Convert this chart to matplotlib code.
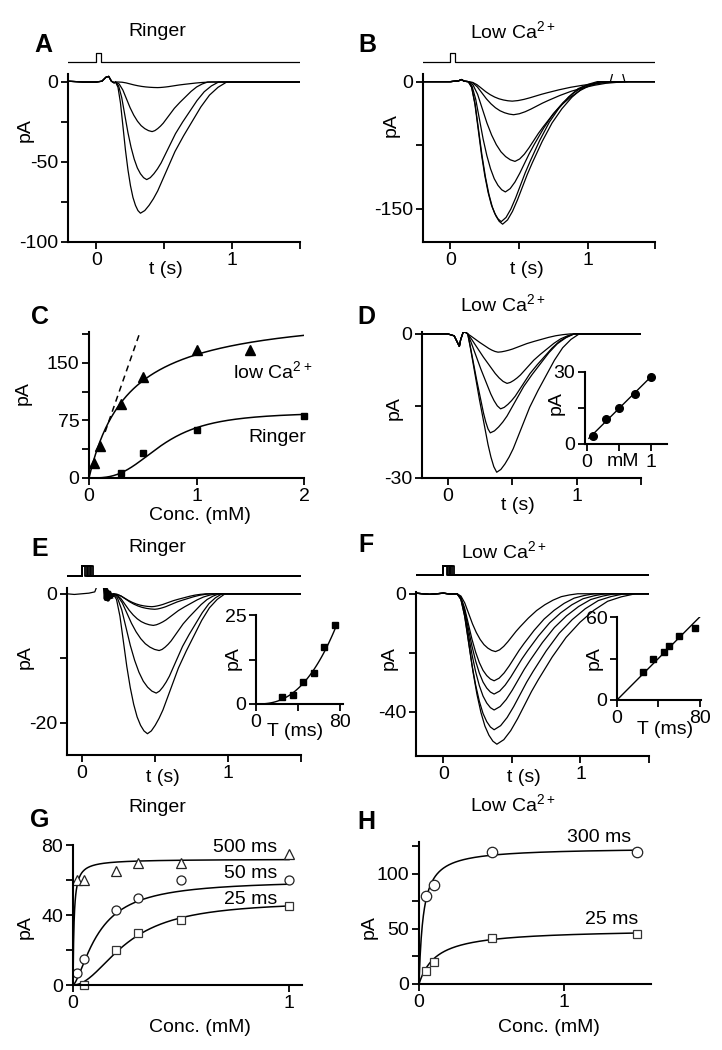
import matplotlib
matplotlib.use("Agg")
import matplotlib.pyplot as plt
import numpy as np

plt.rcParams['font.family'] = ['Liberation Sans', 'DejaVu Sans']
plt.rcParams['mathtext.fontset'] = 'custom'
plt.rcParams['mathtext.rm'] = 'Liberation Sans'
plt.rcParams['font.size'] = 14
plt.rcParams['axes.linewidth'] = 1.5

W, H = 722, 1050

# normalised response shape
rise_u = [0, 0.1, 0.2, 0.3, 0.4, 0.5, 0.6, 0.7, 0.8, 0.9, 1.0]
rise_y = [0, 0.04, 0.16, 0.34, 0.52, 0.67, 0.79, 0.88, 0.94, 0.98, 1.0]
fast_rise_y = [0, 0.11, 0.23, 0.35, 0.47, 0.58, 0.69, 0.8, 0.89, 0.96, 1.0]
bell_v = [0, 0.05, 0.1, 0.15, 0.2, 0.3, 0.4, 0.5, 0.6, 0.7, 0.8, 0.9, 1.0]
bell_y = [1.0, 0.98, 0.94, 0.89, 0.83, 0.68, 0.53, 0.41, 0.3, 0.19, 0.1, 0.04, 0.0]
tail_v = [0, 0.05, 0.1, 0.15, 0.2, 0.25, 0.3, 0.4, 0.5, 0.6, 0.7, 0.8, 0.9, 1.0]
tail_y = [1.0, 0.97, 0.91, 0.83, 0.74, 0.65, 0.57, 0.42, 0.29, 0.19, 0.11, 0.05, 0.02, 0.0]

# A: Ringer traces
a_amp = [3.5, 31, 61, 82]
a_on = [0.16, 0.14, 0.14, 0.14]
a_peak = [0.45, 0.41, 0.37, 0.324]
a_end = [0.85, 0.82, 0.9, 0.96]
a_base_t = [-0.21, -0.1, 0.0, 0.04, 0.07, 0.09, 0.11, 0.13, 0.14]
a_base_y = [0.5, 0, 0, 0.5, 3, 3.5, 0.5, -0.5, 0]
a_stim_t = [-0.21, 0, 0, 0.03, 0.03, 1.5]
a_stim_y = [0, 0, 1, 1, 0, 0]

# B: low Ca traces
b_amp = [23, 39, 94, 130, 165, 168]
b_on = [0.13, 0.13, 0.13, 0.13, 0.13, 0.13]
b_peak = [0.45, 0.46, 0.47, 0.40, 0.37, 0.38]
b_end = [1.3, 1.3, 1.15, 1.1, 1.07, 1.1]
b_base_t = [-0.2, 0.0, 0.06, 0.08, 0.1, 0.13]
b_base_y = [0, 0, 1, 2.5, 0.5, 0]
b_spike_t = [1.165, 1.19, 1.245, 1.27]
b_spike_y = [0, 15, 15, 0]
b_stim_t = [-0.2, 0, 0, 0.03, 0.03, 1.5]
b_stim_y = [0, 0, 1, 1, 0, 0]

# C: dose response
c_low_x = [0.05, 0.1, 0.3, 0.5, 1.0, 1.5]
c_low_y = [20, 42, 96, 132, 166, 166]
c_ring_x = [0.3, 0.5, 1.0, 2.0]
c_ring_y = [6, 32, 63, 81]
c_low_fit = (220, 0.37, 1.0)
c_ring_fit = (86, 0.68, 3.0)
c_slope = 400

# D: low Ca traces + inset
d_amp = [3.8, 10.3, 15.6, 20.6, 28.8]
d_on = [0.155, 0.155, 0.155, 0.155, 0.155]
d_peak = [0.39, 0.46, 0.41, 0.33, 0.38]
d_end = [0.95, 0.98, 0.98, 0.98, 1.02]
d_base_t = [-0.2, 0.0, 0.05, 0.09, 0.1, 0.12, 0.14, 0.155]
d_base_y = [0, 0, -0.4, -2.6, -1.2, 0.4, 0.3, 0]
d_in_x = [0.1, 0.3, 0.5, 0.75, 1.0]
d_in_y = [3.5, 10.4, 15.1, 21, 28]

# E: Ringer, stimulus duration series
e_T = [25, 35, 45, 55, 65, 75]
e_amp = [2.0, 2.4, 4.9, 8.8, 15.4, 21.7]
e_on = [0.215] * 6
e_peak = [0.48, 0.5, 0.49, 0.53, 0.51, 0.45]
e_end = [0.85, 0.88, 0.92, 0.94, 0.96, 0.98]
e_pre_t = [-0.1, -0.05, 0.0, 0.05, 0.09, 0.1]
e_pre_y = [0, -0.1, 0, 0.1, 0.3, 0.9]
e_art_t = [0.16, 0.165, 0.17, 0.18, 0.19, 0.2]
e_art_y = [0.8, -0.8, 0.6, -0.9, 0.2, -0.5]
e_base_t = [0.2, 0.215]
e_base_y = [-0.5, -0.4]
e_in_y = [2.1, 2.5, 6.1, 8.7, 16.1, 22.2]
e_fit = (4.27e-4, 2.5)

# F: low Ca, stimulus duration series
f_T = [25, 35, 45, 50, 60, 75]
f_amp = [19.6, 29.5, 34, 39.4, 46.1, 51]
f_on = [0.1] * 6
f_peak = [0.38, 0.37, 0.37, 0.37, 0.37, 0.39]
f_end = [0.98, 1.1, 1.18, 1.25, 1.32, 1.4]
f_base_t = [-0.2, -0.1, 0.0, 0.05, 0.1]
f_base_y = [0.2, -0.2, 0.2, -0.1, 0]
f_in_y = [20, 29.4, 34.9, 39.2, 46.5, 51.8]

# G: Ringer dose response at three durations
g_x = [0.02, 0.05, 0.2, 0.3, 0.5, 1.0]
g_500 = [60, 60, 65, 70, 70, 75]
g_50 = [7, 15, 43, 50, 60, 60]
g_25_x = [0.05, 0.2, 0.3, 0.5, 1.0]
g_25 = [0, 20, 30, 37, 45]
g_fit_500 = (72, 0.005, 1.0)
g_fit_50 = (60, 0.12, 1.5)
g_fit_25 = (48, 0.25, 2.0)

# H: low Ca dose response
h_x = [0.05, 0.1, 0.5, 1.5]
h_300 = [80, 90, 120, 120]
h_25 = [12, 20, 42, 45]
h_fit_300 = (124, 0.03, 1.0)
h_fit_25 = (50, 0.12, 1.0)


def rect(l, t, r, b):
    return [l / W, 1 - b / H, (r - l) / W, (b - t) / H]


def txt(x, y, s, **kw):
    kw.setdefault('ha', 'center')
    kw.setdefault('va', 'center')
    fig.text(x / W, 1 - y / H, s, **kw)


def hill(x, p):
    vmax, k, n = p
    return vmax * x ** n / (k ** n + x ** n)


def build(base_t, base_y, on, peak, end, amp, dv, dy, t_max, ry=rise_y):
    t = list(base_t) + [on + u * (peak - on) for u in rise_u] + [peak + v * (end - peak) for v in dv[1:]] + [t_max]
    y = list(base_y) + [-amp * r for r in ry] + [-amp * d for d in dy[1:]] + [0]
    return t, y


def style(ax):
    ax.spines['top'].set_visible(False)
    ax.spines['right'].set_visible(False)
    ax.tick_params(direction='out', length=5, width=1.3, pad=2, labelsize=14)


def ticks(ax, xt, xl, yt, yl):
    ax.set_xticks(xt)
    ax.set_xticklabels(xl)
    ax.set_yticks(yt)
    ax.set_yticklabels(yl)


def stim(rc, xlim, ylim):
    s = fig.add_axes(rect(*rc))
    s.set_xlim(xlim)
    s.set_ylim(ylim)
    s.axis('off')
    return s


fig = plt.figure(figsize=(W / 100, H / 100), dpi=100)
lw = 0.9

# ---------- A ----------
ax = fig.add_axes(rect(68, 74, 300, 242))
for i in range(len(a_amp)):
    t, y = build(a_base_t, a_base_y, a_on[i], a_peak[i], a_end[i], a_amp[i], bell_v, bell_y, 1.5)
    ax.plot(t, y, color='black', lw=lw)
ax.set_xlim(-0.21, 1.5)
ax.set_ylim(-100, 5)
style(ax)
ticks(ax, [0, 0.5, 1, 1.5], ['0', '', '1', ''], [0, -25, -50, -75, -100], ['0', '', '-50', '', '-100'])
s = stim((68, 50, 300, 64), (-0.21, 1.5), (-0.22, 1.33))
s.plot(a_stim_t, a_stim_y, color='black', lw=lw)
txt(43, 45, 'A', fontsize=18, fontweight='bold')
txt(157, 32, 'Ringer')
txt(25, 130, 'pA', rotation=90)
txt(166, 270, 't (s)')

# ---------- B ----------
ax = fig.add_axes(rect(423, 74, 655, 242))
for i in range(len(b_amp)):
    t, y = build(b_base_t, b_base_y, b_on[i], b_peak[i], b_end[i], b_amp[i], tail_v, tail_y, 1.5)
    ax.plot(t, y, color='black', lw=lw)
ax.plot(b_spike_t, b_spike_y, color='black', lw=lw)
ax.set_xlim(-0.2, 1.49)
ax.set_ylim(-189, 9)
style(ax)
ticks(ax, [0, 0.5, 1, 1.49], ['0', '', '1', ''], [0, -75, -150], ['0', '', '-150'])
s = stim((423, 50, 655, 64), (-0.2, 1.49), (-0.22, 1.33))
s.plot(b_stim_t, b_stim_y, color='black', lw=lw)
txt(367, 45, 'B', fontsize=18, fontweight='bold')
txt(513, 32, 'Low Ca$^{2+}$')
txt(391, 125, 'pA', rotation=90)
txt(527, 270, 't (s)')

# ---------- C ----------
ax = fig.add_axes(rect(89, 332, 304, 478))
xx = np.linspace(0, 2, 300)
ax.plot(xx, hill(xx, c_low_fit), color='black', lw=1.1)
ax.plot(xx, hill(xx, c_ring_fit), color='black', lw=1.1)
xd = np.linspace(0.15, 0.47, 20)
ax.plot(xd, c_slope * xd, color='black', lw=1.1, dashes=(4, 3))
ax.plot(c_low_x, c_low_y, '^', color='black', ms=7, clip_on=False)
ax.plot(c_ring_x, c_ring_y, 's', color='black', ms=4.5, clip_on=False)
ax.set_xlim(0, 2)
ax.set_ylim(0, 190)
style(ax)
ticks(ax, [0, 1, 2], ['0', '1', '2'], [0, 37.5, 75, 112.5, 150, 187.5], ['0', '', '75', '', '150', ''])
txt(40, 317, 'C', fontsize=18, fontweight='bold')
txt(233, 372, 'low Ca$^{2+}$', ha='left')
txt(248, 437, 'Ringer', ha='left')
txt(23, 393, 'pA', rotation=90)
txt(200, 515, 'Conc. (mM)')

# ---------- D ----------
ax = fig.add_axes(rect(422, 332, 641, 478))
for i in range(len(d_amp)):
    t, y = build(d_base_t, d_base_y, d_on[i], d_peak[i], d_end[i], d_amp[i], bell_v, bell_y, 1.5,
                 ry=fast_rise_y)
    ax.plot(t, y, color='black', lw=lw)
ax.set_xlim(-0.2, 1.5)
ax.set_ylim(-30, 0.4)
style(ax)
ticks(ax, [0, 0.5, 1, 1.5], ['0', '', '1', ''], [0, -15, -30], ['0', '', '-30'])
txt(366, 317, 'D', fontsize=18, fontweight='bold')
txt(503, 305, 'Low Ca$^{2+}$')
txt(394, 408, 'pA', rotation=90)
txt(518, 505, 't (s)')

ins = fig.add_axes(rect(585, 372, 667, 444))
k, b0 = np.polyfit(d_in_x, d_in_y, 1)
xl = np.array([0.03, 1.0])
ins.plot(xl, k * xl + b0, color='black', lw=1)
ins.plot(d_in_x, d_in_y, 'o', color='black', ms=5.5)
ins.set_xlim(-0.03, 1.25)
ins.set_ylim(0, 30)
style(ins)
ticks(ins, [0, 0.5, 1], ['0', '', '1'], [0, 15, 30], ['0', '', '30'])
txt(623, 462, 'mM')
txt(556, 403, 'pA', rotation=90)

# ---------- E ----------
ax = fig.add_axes(rect(67, 588, 301, 755))
ax.plot(e_pre_t, e_pre_y, color='black', lw=lw)
ax.plot(e_art_t, e_art_y, color='black', lw=3)
for i in range(len(e_amp)):
    t, y = build(e_base_t, e_base_y, e_on[i], e_peak[i], e_end[i], e_amp[i], bell_v, bell_y, 1.5)
    ax.plot(t, y, color='black', lw=lw)
ax.set_xlim(-0.1, 1.5)
ax.set_ylim(-25, 0.9)
style(ax)
ticks(ax, [0, 0.5, 1, 1.5], ['0', '', '1', ''], [0, -10, -20], ['0', '', '-20'])
s = stim((67, 563, 301, 578), (-0.1, 1.5), (-0.2, 1.3))
for T in e_T:
    s.plot([-0.1, 0, 0, T / 1000, T / 1000, 1.5], [0, 0, 1, 1, 0, 0], color='black', lw=1.3)
txt(40, 549, 'E', fontsize=18, fontweight='bold')
txt(157, 548, 'Ringer')
txt(25, 657, 'pA', rotation=90)
txt(163, 777, 't (s)')

ins = fig.add_axes(rect(256, 615, 343, 704))
tt = np.linspace(0, 77, 100)
ins.plot(tt, e_fit[0] * tt ** e_fit[1], color='black', lw=1)
ins.plot(e_T, e_in_y, 's', color='black', ms=5)
ins.set_xlim(0, 83)
ins.set_ylim(0, 25)
style(ins)
ticks(ins, [0, 40, 80], ['0', '', '80'], [0, 12.5, 25], ['0', '', '25'])
txt(295, 732, 'T (ms)')
txt(233, 658, 'pA', rotation=90)

# ---------- F ----------
ax = fig.add_axes(rect(416, 592, 649, 756))
for i in range(len(f_amp)):
    t, y = build(f_base_t, f_base_y, f_on[i], f_peak[i], f_end[i], f_amp[i], tail_v, tail_y, 1.5)
    ax.plot(t, y, color='black', lw=lw)
ax.set_xlim(-0.2, 1.5)
ax.set_ylim(-55, 0.6)
style(ax)
ticks(ax, [0, 0.5, 1, 1.5], ['0', '', '1', ''], [0, -20, -40], ['0', '', '-40'])
s = stim((416, 563, 649, 577), (-0.2, 1.5), (-0.22, 1.33))
for T in f_T:
    s.plot([-0.2, 0, 0, T / 1000, T / 1000, 1.5], [0, 0, 1, 1, 0, 0], color='black', lw=1.3)
txt(366, 545, 'F', fontsize=18, fontweight='bold')
txt(504, 552, 'Low Ca$^{2+}$')
txt(389, 658, 'pA', rotation=90)
txt(524, 777, 't (s)')

ins = fig.add_axes(rect(617, 617, 701, 700))
slope = np.sum(np.array(f_T) * np.array(f_in_y)) / np.sum(np.array(f_T) ** 2)
tl = np.array([0, 80])
ins.plot(tl, slope * tl, color='black', lw=1)
ins.plot(f_T, f_in_y, 's', color='black', ms=5)
ins.set_xlim(0, 81)
ins.set_ylim(0, 60)
style(ins)
ticks(ins, [0, 40, 80], ['0', '', '80'], [0, 30, 60], ['0', '', '60'])
txt(665, 730, 'T (ms)')
txt(594, 658, 'pA', rotation=90)

# ---------- G ----------
ax = fig.add_axes(rect(73, 845, 302, 985))
xx = np.linspace(0, 1.0, 400)
for p in (g_fit_500, g_fit_50, g_fit_25):
    ax.plot(xx, hill(xx, p), color='black', lw=1.1)
ax.plot(g_x, g_500, '^', mfc='white', mec='#222222', mew=0.9, ms=7.5, clip_on=False)
ax.plot(g_x, g_50, 'o', mfc='white', mec='#222222', mew=0.9, ms=6.5, clip_on=False)
ax.plot(g_25_x, g_25, 's', mfc='white', mec='#333333', mew=0.9, ms=5.5, clip_on=False)
ax.set_xlim(0, 1.06)
ax.set_ylim(0, 80)
style(ax)
ticks(ax, [0, 1], ['0', '1'], [0, 20, 40, 60, 80], ['0', '', '40', '', '80'])
txt(40, 820, 'G', fontsize=18, fontweight='bold')
txt(157, 807, 'Ringer')
txt(277, 848, '500 ms', ha='right')
txt(277, 874, '50 ms', ha='right')
txt(277, 900, '25 ms', ha='right')
txt(25, 927, 'pA', rotation=90)
txt(200, 1028, 'Conc. (mM)')

# ---------- H ----------
ax = fig.add_axes(rect(419, 842, 651, 984))
xx = np.linspace(0, 1.5, 400)
for p in (h_fit_300, h_fit_25):
    ax.plot(xx, hill(xx, p), color='black', lw=1.1)
ax.plot(h_x, h_300, 'o', mfc='white', mec='#222222', mew=0.9, ms=7.5, clip_on=False)
ax.plot(h_x, h_25, 's', mfc='white', mec='#333333', mew=0.9, ms=6, clip_on=False)
ax.set_xlim(0, 1.6)
ax.set_ylim(0, 129)
style(ax)
ticks(ax, [0, 1], ['0', '1'], [0, 25, 50, 75, 100, 125], ['0', '', '50', '', '100', ''])
txt(366, 822, 'H', fontsize=18, fontweight='bold')
txt(513, 805, 'Low Ca$^{2+}$')
txt(631, 837, '300 ms', ha='right')
txt(638, 920, '25 ms', ha='right')
txt(369, 927, 'pA', rotation=90)
txt(549, 1028, 'Conc. (mM)')

fig.savefig('out.png', dpi=100)
